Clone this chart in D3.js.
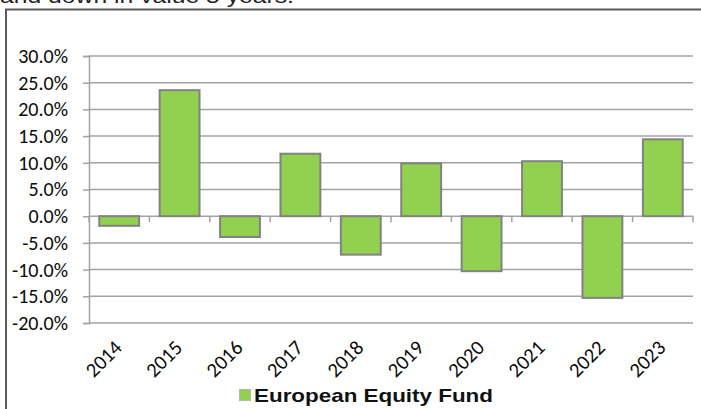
<!DOCTYPE html>
<html>
<head>
<meta charset="utf-8">
<script src="https://cdn.jsdelivr.net/npm/d3@7"></script>
<style>
  html, body { margin: 0; padding: 0; background: #fff; }
  svg { display: block; }
</style>
</head>
<body>
<svg id="chart" width="701" height="409"></svg>
<script>
// Annual returns of the European Equity Fund, in percent
const years = ["2014", "2015", "2016", "2017", "2018", "2019", "2020", "2021", "2022", "2023"];
const returns = [-1.8, 23.6, -3.9, 11.7, -7.2, 9.9, -10.3, 10.3, -15.3, 14.4];
const yTicks = [30, 25, 20, 15, 10, 5, 0, -5, -10, -15, -20];
const seriesName = "European Equity Fund";
const captionTail = "and down in value 5 years.";

const svg = d3.select("#chart");
const labelFont = "Carlito, Lato, 'Open Sans', sans-serif";
const legendFont = "'Liberation Sans', Arial, sans-serif";

const plot = { left: 89, right: 693, top: 56, bottom: 323 };

const x = d3.scaleBand()
  .domain(years)
  .range([plot.left, plot.right])
  .paddingInner(0.34)
  .paddingOuter(0.17);

const y = d3.scaleLinear()
  .domain([-20, 30])
  .range([plot.bottom, plot.top]);

// caption text running off the top edge
svg.append("text")
  .attr("x", 0)
  .attr("y", 3)
  .attr("font-family", legendFont)
  .attr("font-size", 20)
  .attr("fill", "#222")
  .attr("textLength", 294)
  .attr("lengthAdjust", "spacingAndGlyphs")
  .text(captionTail);

// chart frame
svg.append("path")
  .attr("d", "M6,409 V9.5 H701")
  .attr("fill", "none")
  .attr("stroke", "#5a5a5a")
  .attr("stroke-width", 2);

// horizontal gridlines
svg.append("g")
  .selectAll("line")
  .data(yTicks)
  .join("line")
  .attr("x1", plot.left)
  .attr("x2", plot.right)
  .attr("y1", d => y(d))
  .attr("y2", d => y(d))
  .attr("stroke", "#a3a3a3")
  .attr("stroke-width", 1.5);

// value axis
const yAxis = d3.axisLeft(y)
  .tickValues(yTicks)
  .tickSize(6)
  .tickPadding(15)
  .tickFormat(d => d.toFixed(1) + "%");

const gy = svg.append("g")
  .attr("transform", `translate(${plot.left},0)`)
  .call(yAxis);
gy.select(".domain").attr("stroke", "#a3a3a3").attr("stroke-width", 1.5);
gy.selectAll(".tick line").attr("stroke", "#a3a3a3").attr("stroke-width", 1.5);
gy.selectAll(".tick text")
  .attr("font-family", labelFont)
  .attr("font-size", 20)
  .attr("fill", "#0a0a0a");

// bars
svg.append("g")
  .selectAll("rect")
  .data(years.map((yr, i) => ({ yr, v: returns[i] })))
  .join("rect")
  .attr("x", d => x(d.yr))
  .attr("width", x.bandwidth())
  .attr("y", d => y(Math.max(0, d.v)))
  .attr("height", d => Math.abs(y(d.v) - y(0)))
  .attr("fill", "#92d050")
  .attr("stroke", "#828282")
  .attr("stroke-width", 2);

// category axis sitting on the zero line
const step = x.step();
const boundaries = d3.range(years.length + 1).map(i => plot.left + i * step);
svg.append("g")
  .selectAll("line")
  .data(boundaries)
  .join("line")
  .attr("x1", d => d)
  .attr("x2", d => d)
  .attr("y1", y(0))
  .attr("y2", y(0) + 6)
  .attr("stroke", "#a3a3a3")
  .attr("stroke-width", 1.5);

// rotated year labels below the plot
svg.append("g")
  .selectAll("text")
  .data(years)
  .join("text")
  .attr("transform", d => `translate(${x(d) + x.bandwidth() / 2 + 4},${plot.bottom + 26}) rotate(-45)`)
  .attr("text-anchor", "end")
  .attr("font-family", labelFont)
  .attr("font-size", 20.5)
  .attr("fill", "#0a0a0a")
  .text(d => d);

// legend
const legend = svg.append("g");
legend.append("rect")
  .attr("x", 239.5)
  .attr("y", 389.5)
  .attr("width", 11)
  .attr("height", 11)
  .attr("fill", "#92d050")
  .attr("stroke", "#b5b5b5")
  .attr("stroke-width", 1);
legend.append("text")
  .attr("x", 254)
  .attr("y", 402)
  .attr("font-family", legendFont)
  .attr("font-size", 19)
  .attr("font-weight", "bold")
  .attr("fill", "#111")
  .attr("textLength", 239)
  .attr("lengthAdjust", "spacingAndGlyphs")
  .text(seriesName);
</script>
</body>
</html>
